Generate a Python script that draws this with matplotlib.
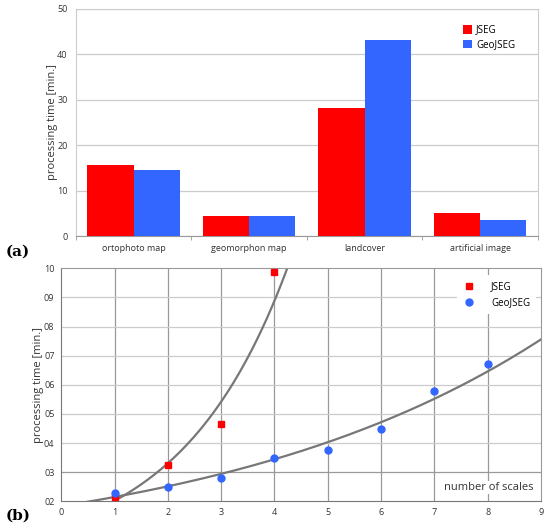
import matplotlib
matplotlib.use("Agg")
import matplotlib.pyplot as plt
import numpy as np
from matplotlib.ticker import FixedLocator

plt.rcParams['font.family'] = ['Open Sans', 'DejaVu Sans']

# (a) processing time per dataset
categories = ['ortophoto map', 'geomorphon map', 'landcover', 'artificial image']
jseg_times = [15.6, 4.3, 28.3, 5.0]
geojseg_times = [14.6, 4.4, 43.2, 3.45]

# (b) processing time vs number of scales
jseg_scales = [1, 2, 3, 4]
jseg_scale_times = [2.14, 3.26, 4.67, 9.86]
geo_scales = [1, 2, 3, 4, 5, 6, 7, 8]
geo_scale_times = [2.29, 2.50, 2.81, 3.50, 3.77, 4.48, 5.78, 6.73]
y_ticks_b = [2, 3, 4, 5, 6, 7, 8, 9, 10]
y_labels_b = ['02', '03', '04', '05', '06', '07', '08', '09', '10']

RED = '#ff0000'
BLUE = '#3366ff'
TXT = '#333333'

fig = plt.figure(figsize=(5.5, 5.28), dpi=100)

# ---- top bar chart ----
ax1 = fig.add_axes([0.138, 0.553, 0.840, 0.430])
x = np.arange(len(categories))
w = 0.4
ax1.bar(x - w / 2, jseg_times, w, color=RED, label='JSEG', zorder=3)
ax1.bar(x + w / 2, geojseg_times, w, color=BLUE, label='GeoJSEG', zorder=3)
ax1.set_xlim(-0.5, len(categories) - 0.5)
ax1.set_ylim(0, 50)
ax1.set_yticks([0, 10, 20, 30, 40, 50])
ax1.yaxis.grid(True, color='#cccccc', linewidth=0.9, zorder=0)
ax1.set_xticks(x)
ax1.set_xticklabels(categories)
ax1.xaxis.set_minor_locator(FixedLocator(np.arange(-0.5, len(categories), 1.0)))
ax1.tick_params(axis='x', which='major', length=0, pad=6, labelsize=6.5, colors=TXT)
ax1.tick_params(axis='x', which='minor', length=3, color='#999999')
ax1.tick_params(axis='y', length=0, pad=6, labelsize=6.5, colors=TXT)
for s in ['top', 'right', 'left']:
    ax1.spines[s].set_color('#cccccc')
ax1.spines['bottom'].set_color('#999999')
ax1.set_ylabel('processing time [min.]', fontsize=8, color=TXT, labelpad=-1)
leg1 = ax1.legend(loc='upper right', frameon=False, fontsize=7, handlelength=1.0,
                  handleheight=1.0, handletextpad=0.4, labelspacing=0.4,
                  bbox_to_anchor=(0.97, 0.97))

# ---- bottom scatter chart ----
ax2 = fig.add_axes([0.1115, 0.0506, 0.872, 0.4413])
ax2.set_xlim(0, 9)
ax2.set_ylim(2, 10)
ax2.set_xticks(range(0, 10))
ax2.set_yticks(y_ticks_b)
ax2.set_yticklabels(y_labels_b)
ax2.tick_params(length=0, labelsize=6.5, colors=TXT, pad=5)
for xv in range(1, 9):
    ax2.axvline(xv, color='#999999', linewidth=0.9, zorder=0)
for yv in y_ticks_b[1:-1]:
    ax2.axhline(yv, color='#999999' if yv == 3 else '#cccccc', linewidth=0.9, zorder=0)
for s in ['top', 'right']:
    ax2.spines[s].set_color('#999999')
for s in ['bottom', 'left']:
    ax2.spines[s].set_color('#777777')

# exponential trend lines fitted to the points
xx = np.linspace(0, 9, 300)
b1, a1 = np.polyfit(jseg_scales, np.log(jseg_scale_times), 1)
b2, a2 = np.polyfit(geo_scales, np.log(geo_scale_times), 1)
ax2.plot(xx, np.exp(a1 + b1 * xx), color='#777777', linewidth=1.6, zorder=2)
ax2.plot(xx, np.exp(a2 + b2 * xx), color='#777777', linewidth=1.6, zorder=2)

ax2.plot(jseg_scales, jseg_scale_times, 's', color=RED, markersize=4.5,
         label='JSEG', zorder=4, clip_on=False)
ax2.plot(geo_scales, geo_scale_times, 'o', color=BLUE, markersize=5,
         label='GeoJSEG', zorder=4, clip_on=False)
ax2.set_ylabel('processing time [min.]', fontsize=8, color=TXT, labelpad=0)
ax2.text(0.985, 0.035, 'number of scales', transform=ax2.transAxes, ha='right',
         va='bottom', fontsize=8, color=TXT, zorder=5,
         bbox=dict(facecolor='white', edgecolor='none', pad=1))
leg2 = ax2.legend(loc='upper right', fontsize=7, handletextpad=1.7, handlelength=1.2,
                  frameon=True, fancybox=False, edgecolor='none', framealpha=1,
                  bbox_to_anchor=(1.0, 0.99), borderpad=0.6)

fig.text(0.011, 0.523, '(a)', fontsize=11, fontweight='bold', family='DejaVu Serif',
         va='center', ha='left')
fig.text(0.011, 0.023, '(b)', fontsize=11, fontweight='bold', family='DejaVu Serif',
         va='center', ha='left')

fig.savefig('out.png', dpi=100)
